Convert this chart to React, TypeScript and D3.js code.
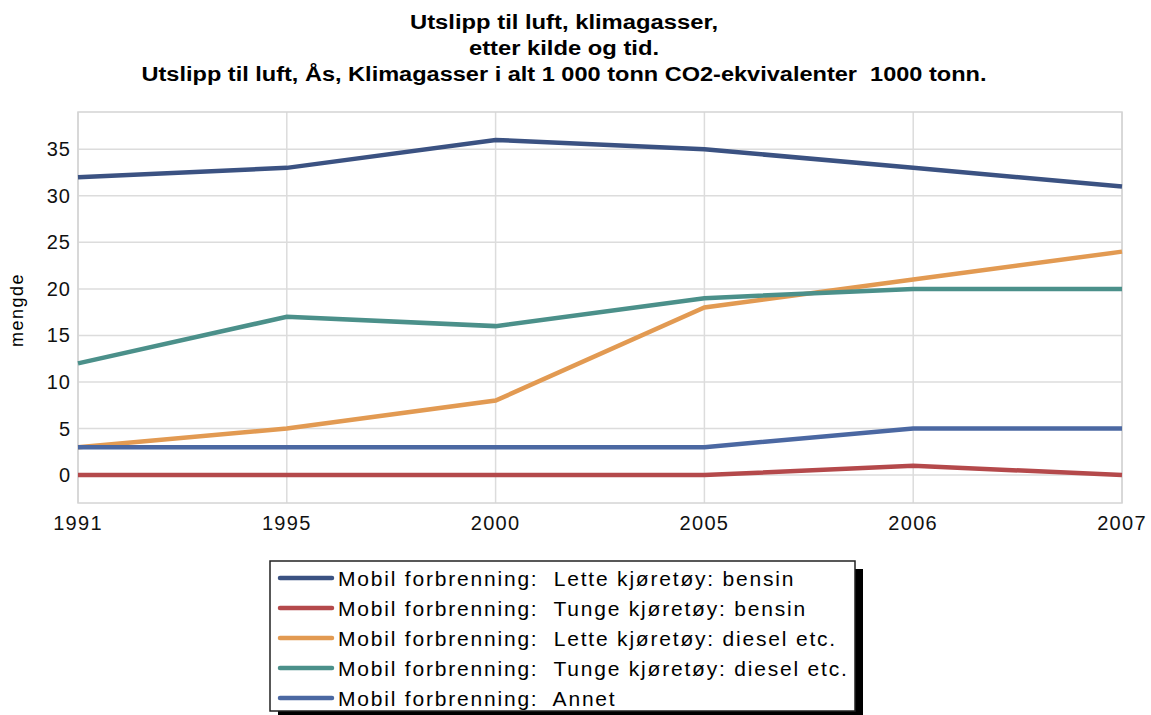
import React from "react";
import * as d3 from "d3";

const years = ["1991", "1995", "2000", "2005", "2006", "2007"];
const letteBensin = [32, 33, 36, 35, 33, 31];
const tungeBensin = [0, 0, 0, 0, 1, 0];
const letteDiesel = [3, 5, 8, 18, 21, 24];
const tungeDiesel = [12, 17, 16, 19, 20, 20];
const annet = [3, 3, 3, 3, 5, 5];
const yTicks = [0, 5, 10, 15, 20, 25, 30, 35];
const seriesNames = [
  "Mobil forbrenning:  Lette kjøretøy: bensin",
  "Mobil forbrenning:  Tunge kjøretøy: bensin",
  "Mobil forbrenning:  Lette kjøretøy: diesel etc.",
  "Mobil forbrenning:  Tunge kjøretøy: diesel etc.",
  "Mobil forbrenning:  Annet",
];
const seriesColors = ["#3b5282", "#b4494b", "#e29a52", "#4b908a", "#4b68a2"];
const titleLines = [
  "Utslipp til luft, klimagasser,",
  "etter kilde og tid.",
  "Utslipp til luft, Ås, Klimagasser i alt 1 000 tonn CO2-ekvivalenter  1000 tonn.",
];
const titleWidths = [308, 190, 845];

export default function App() {
  const W = 1151, H = 715;
  const left = 78, right = 1122, top = 112, bottom = 503;
  const x = d3.scalePoint<string>().domain(years).range([left, right]);
  const y = d3.scaleLinear().domain([-3, 39]).range([bottom, top]);
  const allSeries = [letteBensin, tungeBensin, letteDiesel, tungeDiesel, annet];
  const line = d3
    .line<number>()
    .x((_, i) => x(years[i]) as number)
    .y((d) => y(d));
  const font = "'Liberation Sans', Arial, sans-serif";
  const legX = 270, legY = 561, legW = 585, legH = 150;
  return (
    <svg width={W} height={H} style={{ position: "absolute", left: 0, top: 0 }}>
      <rect width={W} height={H} fill="#fff" />
      {titleLines.map((t, i) => (
        <text
          key={i}
          x={564 - titleWidths[i] / 2}
          y={29 + i * 26}
          fontFamily={font}
          fontWeight="bold"
          fontSize={20}
          fill="#000"
          textLength={titleWidths[i]}
          lengthAdjust="spacingAndGlyphs"
          style={{ whiteSpace: "pre" }}
        >
          {t}
        </text>
      ))}
      {/* grid */}
      {yTicks.map((t) => (
        <line key={"gy" + t} x1={left} x2={right} y1={y(t)} y2={y(t)} stroke="#dcdcdc" strokeWidth={1.5} />
      ))}
      {years.map((yr) => (
        <line key={"gx" + yr} x1={x(yr)} x2={x(yr)} y1={top} y2={bottom} stroke="#dcdcdc" strokeWidth={1.5} />
      ))}
      <rect x={left} y={top} width={right - left} height={bottom - top} fill="none" stroke="#d4d4d4" strokeWidth={1.5} />
      {/* y ticks */}
      {yTicks.map((t) => (
        <text key={"ty" + t} x={71} y={y(t) + 7} textAnchor="end" fontFamily={font} fontSize={20} fill="#111" style={{ letterSpacing: "1px" }}>
          {t}
        </text>
      ))}
      {years.map((yr) => (
        <text key={"tx" + yr} x={x(yr)} y={530} textAnchor="middle" fontFamily={font} fontSize={20} fill="#111" style={{ letterSpacing: "1.3px" }}>
          {yr}
        </text>
      ))}
      <text
        transform={`translate(23,310) rotate(-90)`}
        textAnchor="middle"
        fontFamily={font}
        fontSize={18}
        fill="#000"
        style={{ letterSpacing: "1.5px" }}
      >
        mengde
      </text>
      {/* lines */}
      {allSeries.map((s, i) => (
        <path key={"l" + i} d={line(s) as string} fill="none" stroke={seriesColors[i]} strokeWidth={4.5} />
      ))}
      {/* legend */}
      <rect x={legX + 8} y={legY + 8} width={legW} height={legH} fill="#000" />
      <rect x={legX} y={legY} width={legW} height={legH} fill="#fff" stroke="#222" strokeWidth={1.5} />
      {seriesNames.map((n, i) => (
        <g key={"lg" + i}>
          <line
            x1={legX + 10}
            x2={legX + 62}
            y1={legY + 17 + i * 30}
            y2={legY + 17 + i * 30}
            stroke={seriesColors[i]}
            strokeWidth={4.5}
            strokeLinecap="round"
          />
          <text
            x={legX + 68}
            y={legY + 25 + i * 30}
            fontFamily={font}
            fontSize={21}
            fill="#000"
            style={{ whiteSpace: "pre", letterSpacing: "1.8px" }}
          >
            {n}
          </text>
        </g>
      ))}
    </svg>
  );
}
